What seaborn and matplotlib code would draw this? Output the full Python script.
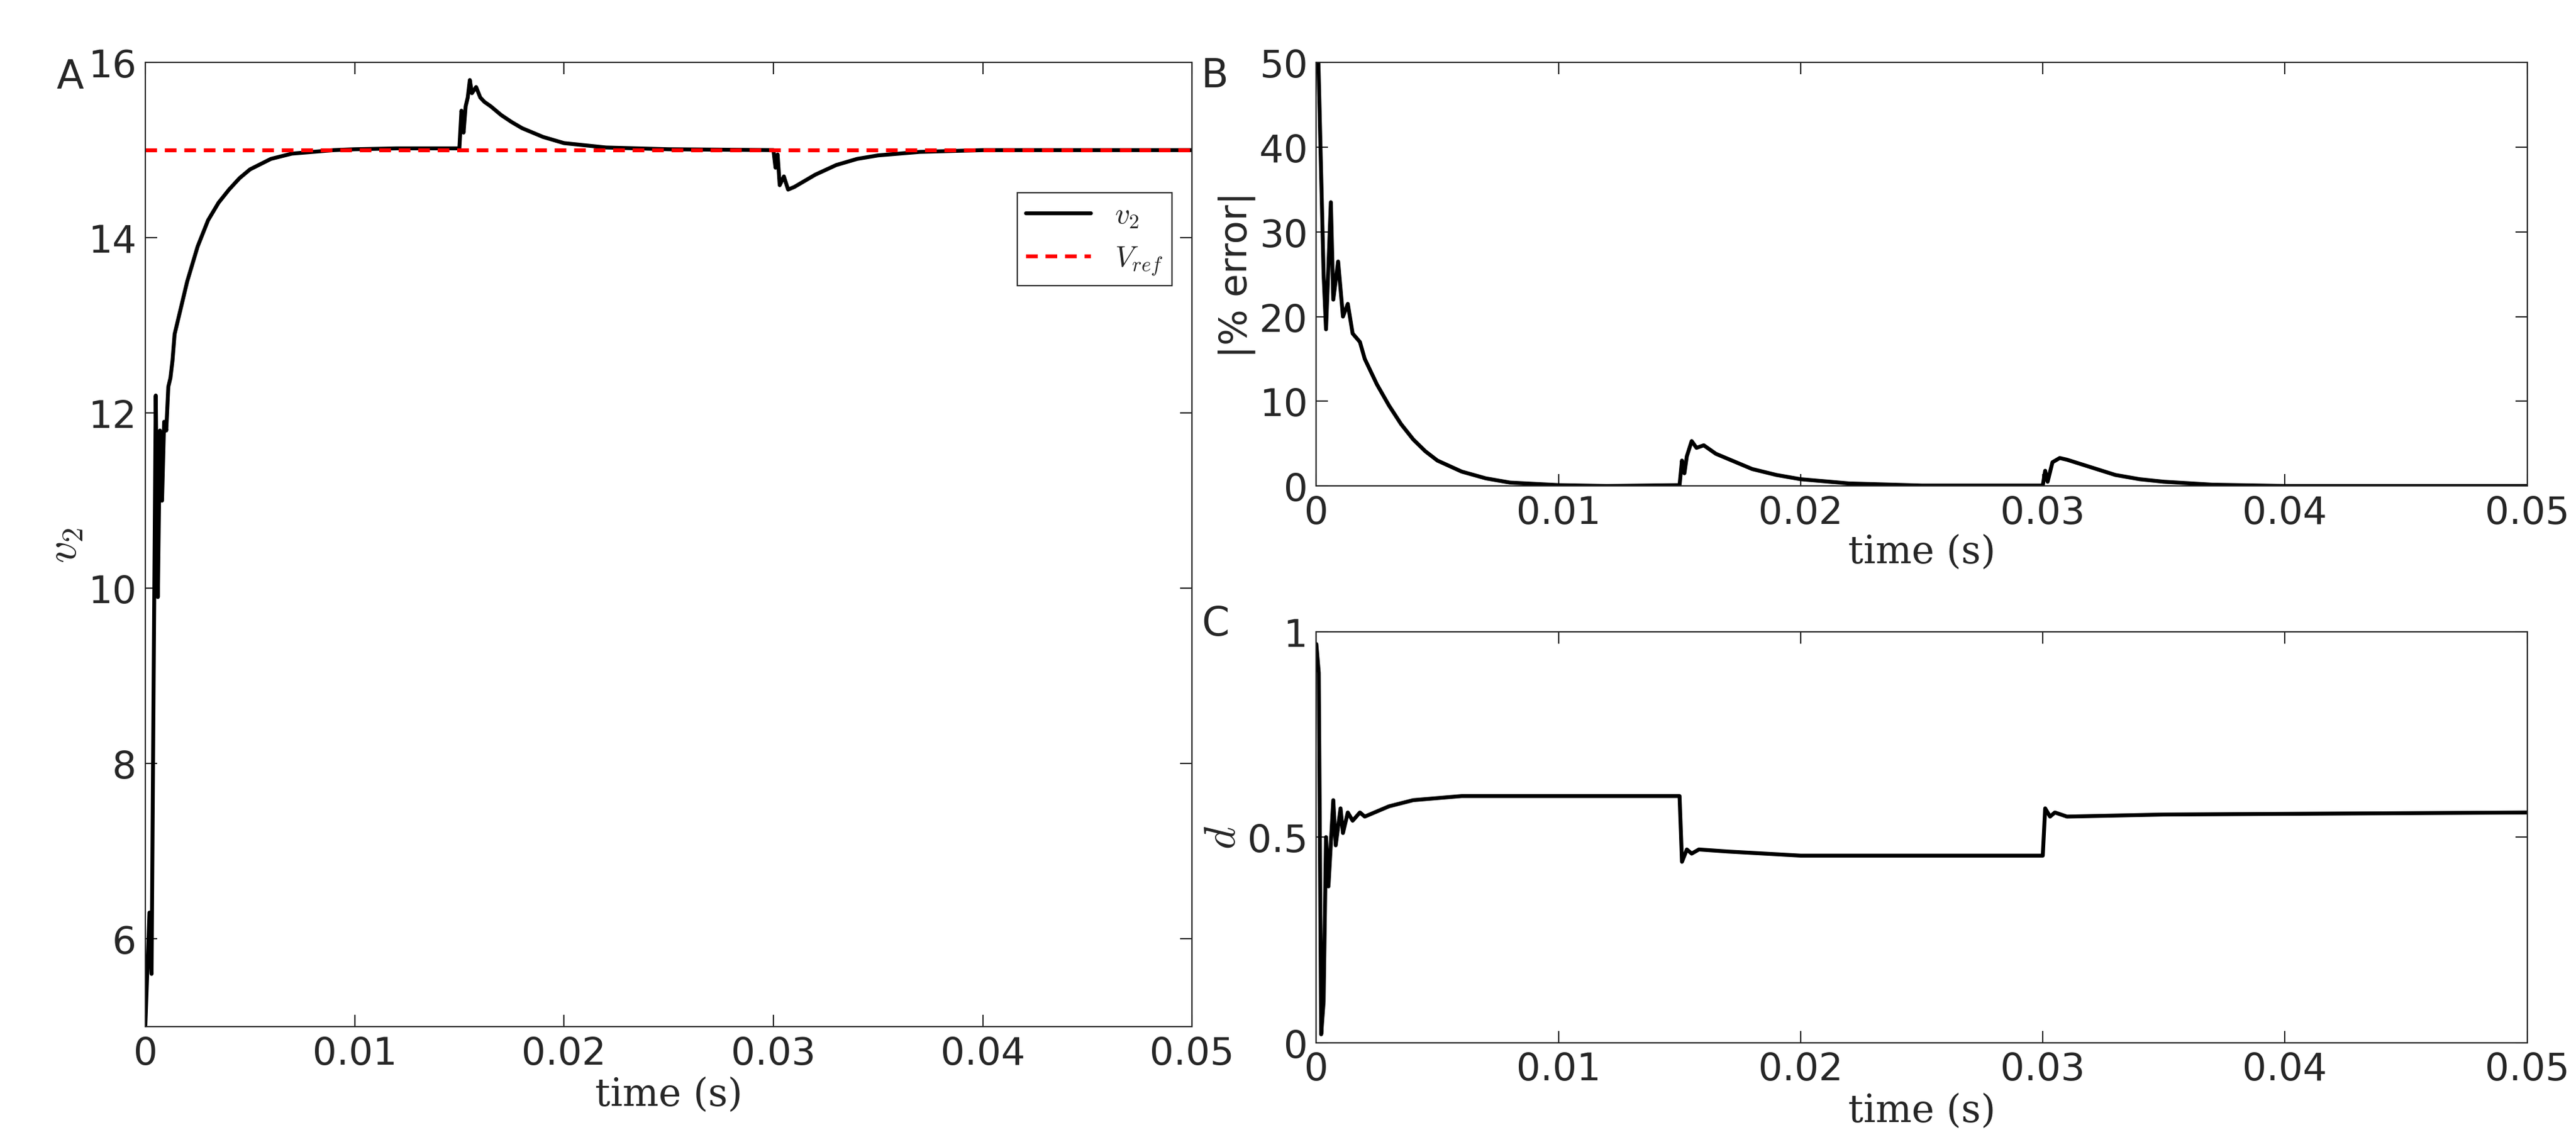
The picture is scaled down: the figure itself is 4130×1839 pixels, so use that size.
import matplotlib
matplotlib.use("Agg")
import matplotlib.pyplot as plt
import seaborn as sns
import pandas as pd

sns.set_theme(style="white")
plt.rcParams['font.family'] = ['DejaVu Sans']
plt.rcParams['mathtext.fontset'] = 'cm'

# ---- data ----
t_v2 = [0, 0.0002, 0.0003, 0.0004, 0.0005, 0.0006, 0.0007, 0.0008, 0.0009, 0.001, 0.0011, 0.0012,
        0.0013, 0.0014, 0.0015, 0.0016, 0.0018, 0.002, 0.0025, 0.003, 0.0035, 0.004, 0.0045, 0.005,
        0.006, 0.007, 0.008, 0.009, 0.01, 0.012, 0.015, 0.0151, 0.0152, 0.0153, 0.0154, 0.0155,
        0.0156, 0.0158, 0.016, 0.0162, 0.0165, 0.017, 0.0175, 0.018, 0.019, 0.02, 0.022, 0.025,
        0.03, 0.0301, 0.0302, 0.0303, 0.0305, 0.0307, 0.031, 0.0315, 0.032, 0.033, 0.034, 0.035,
        0.037, 0.04, 0.05]
v2 = [5, 6.3, 5.6, 9.0, 12.2, 9.9, 11.8, 11.0, 11.9, 11.8, 12.3, 12.4,
      12.6, 12.9, 13.0, 13.1, 13.3, 13.5, 13.9, 14.2, 14.4, 14.55, 14.68, 14.78,
      14.9, 14.96, 14.98, 15.0, 15.01, 15.02, 15.02, 15.45, 15.2, 15.5, 15.6, 15.8,
      15.65, 15.72, 15.6, 15.55, 15.5, 15.4, 15.32, 15.25, 15.15, 15.08, 15.03, 15.01,
      15.0, 14.8, 14.95, 14.6, 14.7, 14.55, 14.58, 14.65, 14.72, 14.83, 14.9, 14.94,
      14.98, 15.0, 15.0]
v_ref = 15.0

t_err = [0, 0.0003, 0.0004, 0.0006, 0.0007, 0.0009, 0.0011, 0.0013, 0.0015, 0.0018, 0.002, 0.0025,
         0.003, 0.0035, 0.004, 0.0045, 0.005, 0.006, 0.007, 0.008, 0.01, 0.012, 0.015, 0.0151,
         0.0152, 0.0153, 0.0155, 0.0157, 0.016, 0.0165, 0.017, 0.018, 0.019, 0.02, 0.022, 0.025,
         0.03, 0.0301, 0.0302, 0.0304, 0.0307, 0.031, 0.032, 0.033, 0.034, 0.035, 0.037, 0.04, 0.05]
err = [60, 25, 18.5, 33.5, 22, 26.5, 20, 21.5, 18, 17, 15, 12,
       9.5, 7.3, 5.5, 4.1, 3, 1.7, 0.9, 0.4, 0.1, 0.0, 0.1, 3,
       1.5, 3.5, 5.3, 4.5, 4.8, 3.8, 3.2, 2, 1.3, 0.8, 0.3, 0.05,
       0.05, 1.8, 0.5, 2.8, 3.3, 3.1, 2.2, 1.3, 0.8, 0.5, 0.15, 0.0, 0.0]

t_d = [0, 0.0001, 0.0002, 0.0003, 0.0004, 0.0005, 0.0007, 0.0008, 0.001, 0.0011, 0.0013, 0.0015,
       0.0018, 0.002, 0.003, 0.004, 0.006, 0.01, 0.015, 0.0151, 0.0153, 0.0155, 0.0158, 0.017,
       0.02, 0.03, 0.0301, 0.0303, 0.0305, 0.031, 0.035, 0.05]
d = [0.97, 0.9, 0.02, 0.1, 0.5, 0.38, 0.59, 0.48, 0.57, 0.51, 0.56, 0.54,
     0.56, 0.55, 0.575, 0.59, 0.6, 0.6, 0.6, 0.44, 0.47, 0.46, 0.47, 0.465,
     0.455, 0.455, 0.57, 0.55, 0.56, 0.55, 0.555, 0.56]

fig = plt.figure(figsize=(41.3, 18.4), dpi=100)
axA = fig.add_axes([0.0564, 0.105, 0.4064, 0.84])
axB = fig.add_axes([0.511, 0.576, 0.47, 0.369])
axC = fig.add_axes([0.511, 0.091, 0.47, 0.358])

FS = 44
LW = 4.5
xt = [0, 0.01, 0.02, 0.03, 0.04, 0.05]
xtl = ['0', '0.01', '0.02', '0.03', '0.04', '0.05']

def style(ax):
    for s in ax.spines.values():
        s.set_color('#262626'); s.set_linewidth(1.5)
    ax.tick_params(direction='in', length=14, width=1.5, labelsize=FS, top=True, right=True,
                   bottom=True, left=True, colors='#262626', pad=10)
    ax.set_xlim(0, 0.05)
    ax.set_xticks(xt); ax.set_xticklabels(xtl)

sns.lineplot(x=t_v2, y=v2, ax=axA, color='black', lw=LW, label='$v_2$')
axA.axhline(v_ref, color='red', lw=LW, ls=(0, (3, 2)), label='$V_{ref}$')
axA.set_ylim(5, 16)
style(axA)
axA.set_yticks([6, 8, 10, 12, 14, 16])
axA.set_xlabel('time (s)', fontsize=FS, family='serif')
axA.set_ylabel('$v_2$', fontsize=FS + 6)
leg = axA.legend(loc='upper right', bbox_to_anchor=(0.995, 0.88), fontsize=FS - 10, frameon=True,
                 fancybox=False, edgecolor='black', handlelength=2.2, borderpad=0.3)
leg.get_frame().set_linewidth(1.5)
axA.text(-0.085, 0.985, 'A', transform=axA.transAxes, fontsize=FS + 2, va='center')

sns.lineplot(x=t_err, y=err, ax=axB, color='black', lw=LW)
axB.set_ylim(0, 50)
style(axB)
axB.set_yticks([0, 10, 20, 30, 40, 50])
axB.set_xlabel('time (s)', fontsize=FS, family='serif', labelpad=2)
axB.set_ylabel('|% error|', fontsize=FS)
axB.text(-0.095, 0.97, 'B', transform=axB.transAxes, fontsize=FS + 2, va='center')

sns.lineplot(x=t_d, y=d, ax=axC, color='black', lw=LW)
axC.set_ylim(0, 1)
style(axC)
axC.set_yticks([0, 0.5, 1]); axC.set_yticklabels(['0', '0.5', '1'])
axC.set_xlabel('time (s)', fontsize=FS, family='serif')
axC.set_ylabel('$d$', fontsize=FS + 6)
axC.text(-0.095, 1.02, 'C', transform=axC.transAxes, fontsize=FS + 2, va='center')

fig.savefig('out.png', dpi=100, facecolor='white')
